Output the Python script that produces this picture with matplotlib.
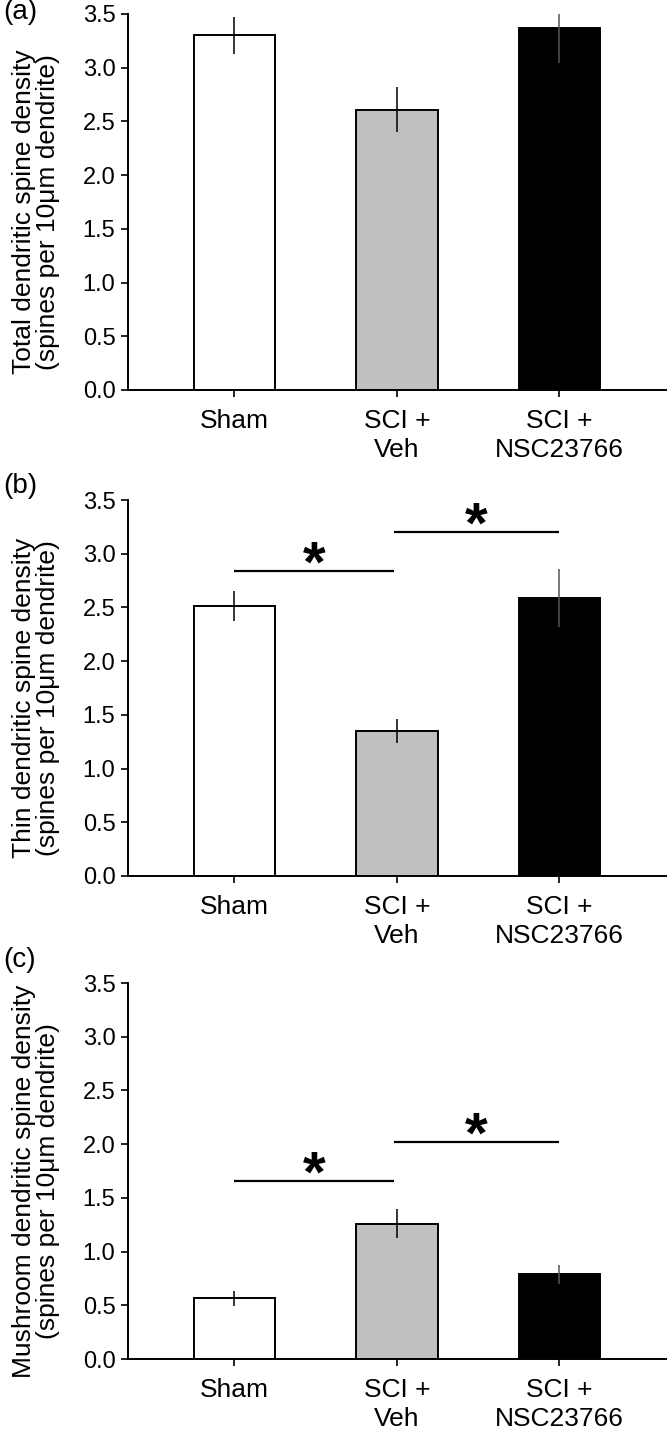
import numpy as np
import matplotlib.pyplot as plt

plt.rcParams['font.family'] = ['Liberation Sans', 'DejaVu Sans']

# groupes et couleurs
groupes = ["Sham", "SCI +\nVeh", "SCI +\nNSC23766"]
couleurs = ["white", "#c0c0c0", "black"]
couleurs_err = ["black", "black", "#555555"]

# moyennes et erreurs
total_moy = [3.30, 2.61, 3.37]
total_err = [0.17, 0.21, 0.33]
thin_moy = [2.51, 1.35, 2.59]
thin_err = [0.14, 0.11, 0.27]
mush_moy = [0.565, 1.26, 0.79]
mush_err = [0.07, 0.135, 0.088]

# barres de significativité : (debut, fin, hauteur)
sig_thin = [(0.0, 0.98, 2.84), (0.98, 2.0, 3.20)]
sig_mush = [(0.0, 0.98, 1.66), (0.98, 2.0, 2.02)]

panneaux = [
    ("(a)", "Total dendritic spine density", total_moy, total_err, []),
    ("(b)", "Thin dendritic spine density", thin_moy, thin_err, sig_thin),
    ("(c)", "Mushroom dendritic spine density", mush_moy, mush_err, sig_mush),
]

W, H = 672, 1436
fig = plt.figure(figsize=(W / 100, H / 100), dpi=100)

# positions en pixels : (haut, bas) de chaque axe, et y du label de panneau
haut_bas = [(14, 390), (500, 876), (983, 1359)]
y_lettre = [12, 486, 960]
x_gauche, x_droite = 128, 666

x = np.arange(len(groupes))

for (lettre, titre, moy, err, sig), (h, b), yl in zip(panneaux, haut_bas, y_lettre):
    ax = fig.add_axes([x_gauche / W, 1 - b / H, (x_droite - x_gauche) / W, (b - h) / H])
    ax.bar(x, moy, width=0.5, color=couleurs, edgecolor="black", linewidth=1.4, zorder=2)
    for xi, m, e, c in zip(x, moy, err, couleurs_err):
        ax.errorbar(xi, m, yerr=e, fmt="none", ecolor=c, elinewidth=1.1, capsize=0, zorder=3)

    for x0, x1, y in sig:
        ax.plot([x0, x1], [y, y], color="black", lw=1.6, solid_capstyle="butt", zorder=3)
        ax.annotate("*", xy=((x0 + x1) / 2, y), xytext=(0, -7.5), textcoords="offset points",
                    ha="center", va="baseline", fontsize=42, fontweight="bold", zorder=3)

    ax.set_xlim(-0.655, 2.656)
    ax.set_ylim(0, 3.5)
    ax.set_yticks(np.arange(0, 3.51, 0.5))
    ax.set_yticklabels([f"{v:.1f}" for v in np.arange(0, 3.51, 0.5)])
    ax.set_xticks(x)
    ax.set_xticklabels(groupes, fontsize=19, linespacing=1.3)

    for s in ["top", "right"]:
        ax.spines[s].set_visible(False)
    for s in ["left", "bottom"]:
        ax.spines[s].set_linewidth(1.4)
    ax.tick_params(axis="y", direction="out", length=5, width=1.2, labelsize=17, pad=4)
    ax.tick_params(axis="x", direction="out", length=5, width=1.2, pad=8.5)

    ax.set_ylabel(titre + "\n(spines per 10\u03bcm dendrite)", fontsize=19, linespacing=1.0)
    ax.yaxis.set_label_coords(-0.127, 0.473)

    fig.text(3 / W, 1 - yl / H, lettre, fontsize=20, ha="left", va="center")

fig.savefig("out.png", dpi=100)
